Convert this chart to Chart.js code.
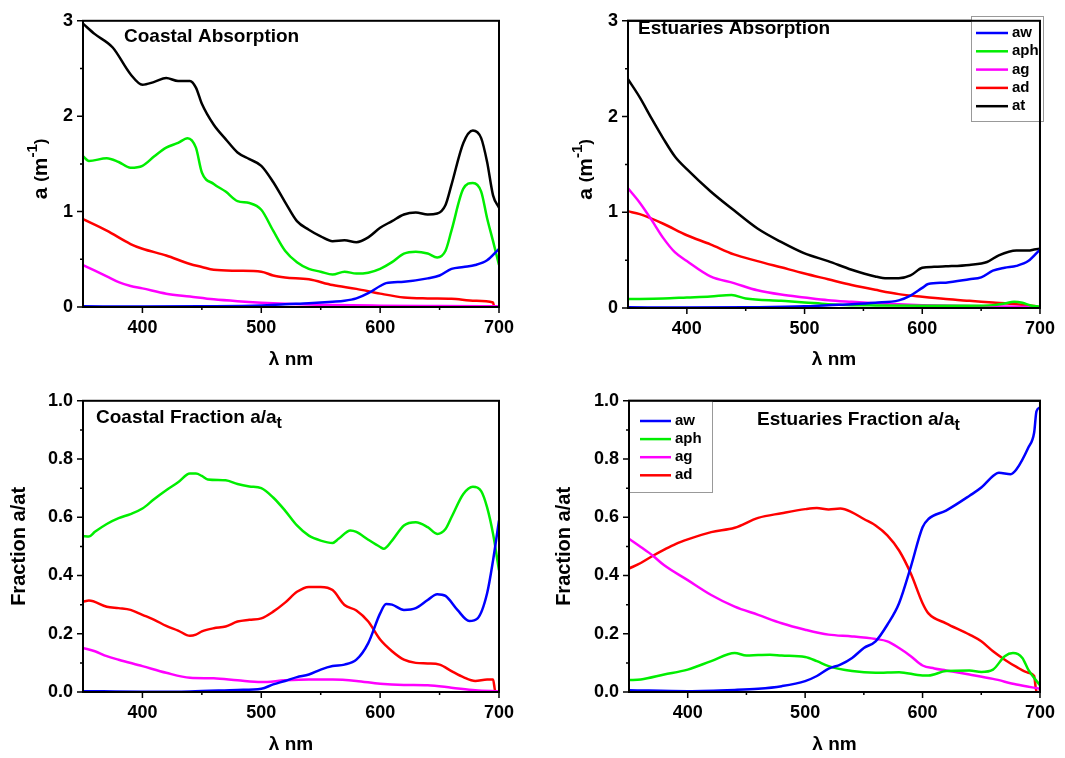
<!DOCTYPE html>
<html>
<head>
<meta charset="utf-8">
<script src="https://cdn.jsdelivr.net/npm/chart.js@4.4.0/dist/chart.umd.min.js"></script>
<style>
body{margin:0;background:#fff;width:1065px;height:758px;position:relative;overflow:hidden}
canvas{position:absolute}
</style>
</head>
<body>
<canvas id="c1" width="532" height="379" style="left:0;top:0"></canvas>
<canvas id="c2" width="520" height="379" style="left:545px;top:0"></canvas>
<canvas id="c3" width="532" height="378" style="left:0;top:380px"></canvas>
<canvas id="c4" width="520" height="378" style="left:545px;top:380px"></canvas>
<script>
// [wavelength nm, value]
const coastAbsAw = [[350,0.007],[400,0.005],[450,0.008],[500,0.017],[520,0.03],[540,0.04],[560,0.055],[570,0.065],[580,0.09],[590,0.145],[600,0.22],[605,0.25],[620,0.265],[640,0.30],[650,0.33],[660,0.40],[670,0.42],[680,0.44],[690,0.49],[700,0.61]];
const coastAbsAph = [[350,1.58],[355,1.53],[370,1.56],[380,1.52],[390,1.46],[400,1.48],[410,1.58],[420,1.67],[430,1.72],[438,1.77],[445,1.67],[450,1.41],[460,1.29],[470,1.21],[480,1.11],[490,1.09],[500,1.02],[510,0.80],[520,0.59],[530,0.47],[540,0.40],[550,0.37],[560,0.34],[570,0.37],[580,0.35],[590,0.36],[600,0.40],[610,0.47],[620,0.56],[630,0.58],[640,0.56],[648,0.52],[655,0.59],[660,0.80],[670,1.24],[678,1.30],[685,1.21],[690,0.93],[695,0.69],[700,0.44]];
const coastAbsAg = [[350,0.44],[360,0.38],[370,0.32],[380,0.26],[390,0.22],[400,0.195],[420,0.14],[440,0.11],[460,0.08],[480,0.06],[500,0.045],[520,0.034],[540,0.027],[560,0.02],[600,0.014],[650,0.01],[700,0.007]];
const coastAbsAd = [[350,0.92],[370,0.80],[390,0.66],[400,0.61],[420,0.54],[440,0.45],[450,0.42],[460,0.39],[480,0.38],[500,0.37],[510,0.33],[520,0.31],[540,0.29],[560,0.23],[580,0.19],[600,0.14],[620,0.10],[640,0.09],[660,0.086],[680,0.065],[695,0.048],[696,0],[700,0]];
const coastAbsAt = [[350,2.97],[360,2.86],[375,2.72],[390,2.44],[400,2.33],[410,2.36],[420,2.40],[430,2.37],[440,2.37],[445,2.30],[450,2.13],[460,1.91],[470,1.76],[480,1.62],[490,1.55],[500,1.48],[510,1.31],[520,1.10],[530,0.90],[540,0.81],[550,0.74],[560,0.69],[570,0.70],[580,0.68],[590,0.73],[600,0.83],[610,0.90],[620,0.97],[630,0.99],[640,0.97],[648,0.98],[655,1.07],[660,1.28],[670,1.72],[678,1.85],[685,1.77],[690,1.52],[695,1.17],[700,1.04]];

const estAbsAw = [[350,0.007],[400,0.005],[450,0.008],[500,0.017],[520,0.03],[540,0.04],[560,0.055],[580,0.08],[590,0.13],[600,0.21],[605,0.25],[620,0.265],[640,0.30],[650,0.32],[660,0.39],[670,0.42],[680,0.44],[690,0.49],[700,0.61]];
const estAbsAph = [[350,0.093],[380,0.10],[400,0.11],[420,0.12],[438,0.135],[450,0.10],[480,0.075],[500,0.058],[520,0.04],[540,0.03],[560,0.027],[600,0.024],[640,0.024],[660,0.03],[670,0.048],[678,0.065],[685,0.055],[692,0.027],[700,0.014]];
const estAbsAg = [[350,1.25],[360,1.10],[370,0.92],[380,0.73],[390,0.58],[400,0.49],[420,0.33],[440,0.26],[460,0.185],[480,0.14],[500,0.11],[520,0.082],[540,0.065],[560,0.05],[580,0.038],[600,0.03],[640,0.02],[680,0.014],[700,0.007]];
const estAbsAd = [[350,1.01],[360,0.98],[380,0.88],[400,0.76],[420,0.665],[440,0.56],[460,0.49],[480,0.425],[500,0.36],[520,0.30],[540,0.24],[560,0.19],[580,0.145],[600,0.117],[620,0.093],[640,0.075],[660,0.058],[680,0.04],[695,0.02],[700,0.007]];
const estAbsAt = [[350,2.39],[360,2.20],[370,1.98],[380,1.77],[390,1.58],[400,1.45],[420,1.22],[440,1.02],[460,0.83],[480,0.69],[500,0.57],[520,0.49],[540,0.40],[560,0.33],[570,0.31],[580,0.31],[590,0.34],[600,0.42],[610,0.43],[620,0.435],[640,0.45],[655,0.48],[665,0.55],[680,0.60],[690,0.60],[695,0.61],[700,0.62]];

const coastFracAw = [[350,0.003],[400,0.001],[440,0.002],[480,0.007],[500,0.011],[510,0.026],[520,0.038],[530,0.051],[540,0.06],[550,0.077],[560,0.089],[570,0.094],[580,0.111],[590,0.168],[600,0.27],[605,0.302],[610,0.30],[620,0.282],[630,0.288],[640,0.316],[648,0.336],[655,0.33],[665,0.282],[675,0.244],[682,0.253],[690,0.339],[695,0.452],[700,0.589]];
const coastFracAph = [[350,0.535],[355,0.534],[360,0.55],[370,0.577],[380,0.597],[390,0.611],[400,0.63],[410,0.663],[420,0.693],[430,0.72],[440,0.75],[445,0.75],[450,0.742],[455,0.73],[470,0.727],[480,0.714],[490,0.706],[500,0.70],[510,0.668],[520,0.623],[530,0.572],[540,0.537],[550,0.52],[560,0.512],[565,0.526],[575,0.555],[580,0.55],[590,0.523],[600,0.498],[603,0.492],[610,0.52],[620,0.572],[630,0.583],[640,0.566],[648,0.543],[655,0.56],[660,0.60],[670,0.68],[678,0.705],[685,0.69],[690,0.634],[695,0.543],[700,0.418]];
const coastFracAg = [[350,0.151],[360,0.14],[370,0.123],[380,0.111],[400,0.089],[420,0.066],[440,0.049],[460,0.047],[480,0.04],[500,0.034],[520,0.04],[540,0.043],[560,0.043],[580,0.038],[600,0.028],[620,0.024],[640,0.023],[660,0.015],[680,0.006],[700,0.002]];
const coastFracAd = [[350,0.31],[355,0.314],[370,0.293],[380,0.288],[390,0.282],[400,0.265],[410,0.248],[420,0.227],[430,0.211],[440,0.193],[445,0.197],[450,0.208],[460,0.219],[470,0.225],[480,0.242],[490,0.248],[500,0.253],[510,0.276],[520,0.307],[530,0.344],[540,0.361],[550,0.361],[560,0.35],[570,0.299],[580,0.28],[590,0.242],[600,0.18],[610,0.14],[620,0.111],[630,0.10],[640,0.098],[650,0.094],[660,0.072],[670,0.051],[680,0.038],[690,0.043],[695,0.043],[697,0],[700,0]];

const estFracAw = [[350,0.006],[400,0.003],[440,0.007],[460,0.011],[480,0.02],[500,0.0375],[510,0.055],[520,0.08],[530,0.094],[540,0.117],[550,0.151],[560,0.174],[570,0.231],[580,0.305],[590,0.43],[600,0.566],[605,0.594],[620,0.623],[640,0.674],[650,0.702],[660,0.742],[665,0.753],[675,0.748],[680,0.765],[690,0.839],[695,0.89],[697,0.964],[700,0.977]];
const estFracAph = [[350,0.041],[360,0.043],[380,0.06],[400,0.077],[420,0.106],[440,0.134],[450,0.125],[460,0.127],[470,0.128],[480,0.125],[500,0.12],[510,0.106],[520,0.089],[540,0.072],[560,0.066],[580,0.068],[600,0.057],[605,0.057],[620,0.072],[640,0.074],[650,0.069],[660,0.077],[670,0.123],[677,0.134],[685,0.117],[690,0.077],[700,0.023]];
const estFracAg = [[350,0.526],[360,0.498],[370,0.469],[380,0.435],[400,0.384],[420,0.333],[440,0.293],[460,0.265],[480,0.236],[500,0.214],[520,0.197],[540,0.191],[560,0.182],[570,0.174],[580,0.151],[590,0.123],[600,0.091],[610,0.081],[620,0.074],[640,0.06],[660,0.045],[680,0.026],[700,0.011]];
const estFracAd = [[350,0.424],[360,0.443],[370,0.467],[380,0.489],[390,0.509],[400,0.524],[420,0.549],[440,0.564],[460,0.598],[480,0.614],[500,0.628],[510,0.632],[520,0.627],[530,0.63],[540,0.617],[550,0.594],[560,0.572],[570,0.538],[580,0.486],[590,0.407],[600,0.305],[605,0.27],[620,0.236],[640,0.197],[650,0.174],[660,0.14],[670,0.111],[680,0.086],[690,0.066],[695,0.055],[697,0],[700,0]];

const seriesNames = ['aw', 'aph', 'ag', 'ad', 'at'];
const seriesColors = ['#0000ff', '#00ee00', '#ff00ff', '#ff0000', '#000000'];

const xTicks = [400, 500, 600, 700];
const xMinor = [450, 550, 650];
const yTicksAbs = [0, 1, 2, 3];
const yMinorAbs = [0.5, 1.5, 2.5];
const yTicksFrac = [0, 0.2, 0.4, 0.6, 0.8, 1.0];
const yMinorFrac = [0.1, 0.3, 0.5, 0.7, 0.9];

const FONT = '"Liberation Sans", Arial, sans-serif';

function drawRuns(ctx, runs, x, y) {
  let cx = x;
  runs.forEach(r => {
    ctx.font = r[1];
    ctx.fillText(r[0], cx, y + (r[2] || 0));
    cx += ctx.measureText(r[0]).width;
  });
}
function runsWidth(ctx, runs) {
  let w = 0;
  runs.forEach(r => { ctx.font = r[1]; w += ctx.measureText(r[0]).width; });
  return w;
}

// frame, outward ticks, panel title, rotated y title, legend box
const decor = {
  id: 'decor',
  afterDraw(chart, args, o) {
    const {ctx, chartArea: a, scales: {x, y}} = chart;
    ctx.save();
    ctx.strokeStyle = '#000';
    ctx.lineWidth = 2;
    ctx.strokeRect(a.left, a.top, a.right - a.left, a.bottom - a.top);
    ctx.lineWidth = 1.5;
    ctx.beginPath();
    xTicks.forEach(v => { const p = x.getPixelForValue(v); ctx.moveTo(p, a.bottom); ctx.lineTo(p, a.bottom + 6); });
    xMinor.forEach(v => { const p = x.getPixelForValue(v); ctx.moveTo(p, a.bottom); ctx.lineTo(p, a.bottom + 3); });
    o.yMajor.forEach(v => { const p = y.getPixelForValue(v); ctx.moveTo(a.left, p); ctx.lineTo(a.left - 6, p); });
    o.yMinor.forEach(v => { const p = y.getPixelForValue(v); ctx.moveTo(a.left, p); ctx.lineTo(a.left - 3, p); });
    ctx.stroke();

    ctx.fillStyle = '#000';
    ctx.textBaseline = 'middle';
    ctx.textAlign = 'left';
    drawRuns(ctx, o.title, o.titleX, o.titleY);

    if (o.yTitle) {
      ctx.save();
      ctx.translate(o.yTitleX, (a.top + a.bottom) / 2 + 5);
      ctx.rotate(-Math.PI / 2);
      drawRuns(ctx, o.yTitle, -runsWidth(ctx, o.yTitle) / 2, 0);
      ctx.restore();
    }

    if (o.legend) {
      const L = o.legend;
      ctx.fillStyle = '#fff';
      ctx.fillRect(L.x, L.y, L.w, L.h);
      ctx.strokeStyle = '#999';
      ctx.lineWidth = 1;
      ctx.strokeRect(L.x + 0.5, L.y + 0.5, L.w, L.h);
      ctx.font = 'bold 15px ' + FONT;
      chart.data.datasets.forEach((d, i) => {
        const ry = L.row0 + i * L.gap;
        ctx.strokeStyle = d.borderColor;
        ctx.lineWidth = 2.5;
        ctx.beginPath();
        ctx.moveTo(L.l1, ry); ctx.lineTo(L.l2, ry);
        ctx.stroke();
        ctx.fillStyle = '#000';
        ctx.fillText(d.label, L.tx, ry);
      });
      ctx.strokeStyle = '#000';
      ctx.lineWidth = 2;
      ctx.strokeRect(a.left, a.top, a.right - a.left, a.bottom - a.top);
    }
    ctx.restore();
  }
};

function makePanel(id, series, yMax, yTicks, yMinor, fmt, pad, yWidth, xHeight, deco, yTitleText, xTitlePad) {
  const ctx = document.getElementById(id);
  return new Chart(ctx, {
    type: 'line',
    data: {
      datasets: series.map((s, i) => ({
        label: seriesNames[i],
        data: s.map(p => ({x: p[0], y: p[1]})),
        borderColor: seriesColors[i],
        borderWidth: 2.5,
        pointRadius: 0,
        cubicInterpolationMode: 'monotone',
        fill: false
      }))
    },
    options: {
      responsive: false,
      animation: false,
      devicePixelRatio: 1,
      events: [],
      layout: {padding: pad},
      plugins: {
        legend: {display: false},
        tooltip: {enabled: false},
        decor: Object.assign({yMajor: yTicks, yMinor: yMinor}, deco)
      },
      scales: {
        x: {
          type: 'linear', min: 350, max: 700, offset: false,
          afterBuildTicks: s => { s.ticks = xTicks.map(v => ({value: v})); },
          afterFit: s => { s.height = xHeight; },
          grid: {display: false, drawTicks: false},
          border: {display: false},
          ticks: {autoSkip: false, maxRotation: 0, padding: 10, color: '#000', font: {family: FONT, size: 18, weight: 'bold'}},
          title: {display: true, text: 'λ nm', color: '#000', padding: {bottom: xTitlePad, top: 0}, font: {family: FONT, size: 19, weight: 'bold', lineHeight: 1}}
        },
        y: {
          min: 0, max: yMax,
          afterBuildTicks: s => { s.ticks = yTicks.map(v => ({value: v})); },
          afterFit: s => { s.width = yWidth; },
          grid: {display: false, drawTicks: false},
          border: {display: false},
          ticks: {autoSkip: false, padding: 10, color: '#000', callback: fmt, font: {family: FONT, size: 18, weight: 'bold'}},
          title: {display: !!yTitleText, text: yTitleText || '', color: '#000', padding: {top: 9.5, bottom: 0}, font: {family: FONT, size: 20, weight: 'bold', lineHeight: 1}}
        }
      }
    },
    plugins: [decor]
  });
}

const absYTitle = [['a ', 'bold 21px ' + FONT], ['(', 'bold 17px ' + FONT], ['m', 'bold 21px ' + FONT], ['-1', 'bold 15px ' + FONT, -8], [')', 'bold 17px ' + FONT]];
const fmtInt = v => String(v);
const fmtDec = v => v.toFixed(1);

makePanel('c1', [coastAbsAw, coastAbsAph, coastAbsAg, coastAbsAd, coastAbsAt], 3, yTicksAbs, yMinorAbs, fmtInt,
  {left: 0, top: 16, right: 33, bottom: 0}, 83, 72,
  {title: [['Coastal Absorption', 'bold 19px ' + FONT]], titleX: 124, titleY: 37, yTitle: absYTitle, yTitleX: 41}, null, 9.5);

makePanel('c2', [estAbsAw, estAbsAph, estAbsAg, estAbsAd, estAbsAt], 3, yTicksAbs, yMinorAbs, fmtInt,
  {left: 0, top: 16, right: 22, bottom: 0}, 83, 71,
  {title: [['Estuaries Absorption', 'bold 19px ' + FONT]], titleX: 93, titleY: 29, yTitle: absYTitle, yTitleX: 41,
   legend: {x: 426, y: 16, w: 72, h: 105, l1: 431, l2: 463, tx: 467, row0: 33, gap: 18.3}}, null, 9.5);

makePanel('c3', [coastFracAw, coastFracAph, coastFracAg, coastFracAd], 1, yTicksFrac, yMinorFrac, fmtDec,
  {left: 0, top: 19, right: 33, bottom: 0}, 83, 66,
  {title: [['Coastal Fraction a/a', 'bold 19px ' + FONT], ['t', 'bold 16px ' + FONT, 6]], titleX: 96, titleY: 38}, 'Fraction a/at', 3.5);

makePanel('c4', [estFracAw, estFracAph, estFracAg, estFracAd], 1, yTicksFrac, yMinorFrac, fmtDec,
  {left: 0, top: 20, right: 22, bottom: 0}, 84, 66,
  {title: [['Estuaries Fraction a/a', 'bold 19px ' + FONT], ['t', 'bold 16px ' + FONT, 6]], titleX: 212, titleY: 40,
   legend: {x: 84, y: 20, w: 83, h: 92, l1: 95, l2: 126, tx: 130, row0: 41, gap: 18.1}}, 'Fraction a/at', 3.5);
</script>
</body>
</html>
